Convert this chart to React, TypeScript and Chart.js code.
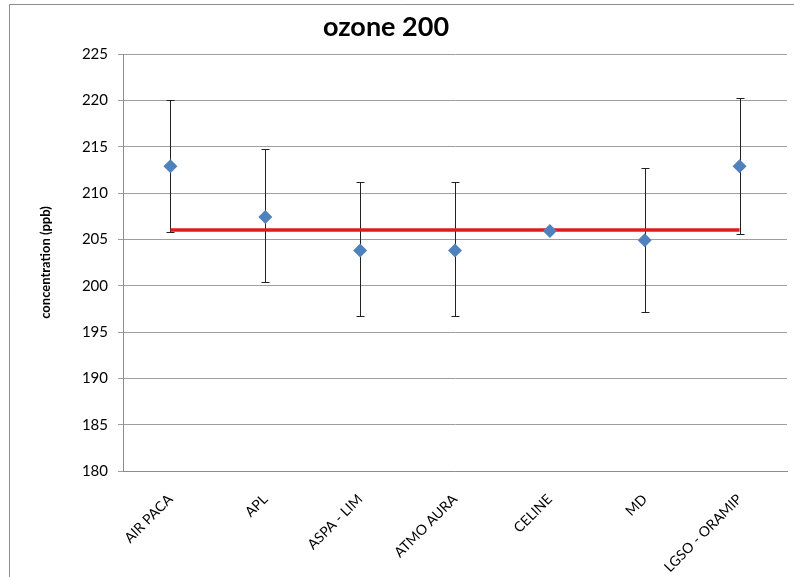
import React, { useEffect, useRef } from "react";
import { Chart, registerables } from "chart.js";

Chart.register(...registerables);

// Laboratories taking part in the ozone 200 ppb comparison
const categories = ["AIR PACA", "APL", "ASPA - LIM", "ATMO AURA", "CELINE", "MD", "LGSO - ORAMIP"];
// Measured concentration (ppb)
const measured = [212.9, 207.4, 203.8, 203.8, 205.9, 204.9, 212.9];
// Uncertainty interval bounds (ppb)
const upperBound = [220.0, 214.8, 211.2, 211.2, 205.9, 212.7, 220.3];
const lowerBound = [205.8, 200.4, 196.7, 196.7, 205.9, 197.2, 205.6];
// Reference value (ppb)
const referenceValue = 206.0;

const yTicks = { min: 180, max: 225, step: 5 };

const FONT = "Lato, 'Open Sans', 'DejaVu Sans', sans-serif";

const frameAndTitle = {
  id: "frameAndTitle",
  beforeDraw(chart: any) {
    const { ctx } = chart;
    ctx.save();
    ctx.fillStyle = "#ffffff";
    ctx.fillRect(0, 0, chart.width, chart.height);
    ctx.strokeStyle = "#8c8c8c";
    ctx.lineWidth = 1;
    ctx.beginPath();
    ctx.moveTo(9.5, chart.height);
    ctx.lineTo(9.5, 4.5);
    ctx.lineTo(chart.width, 4.5);
    ctx.stroke();
    ctx.restore();
  },
  afterDraw(chart: any) {
    const { ctx } = chart;
    ctx.save();
    ctx.fillStyle = "#000000";
    ctx.font = `bold 27px ${FONT}`;
    ctx.textAlign = "center";
    ctx.textBaseline = "middle";
    ctx.fillText("ozone 200", 386, 27);
    ctx.restore();
  },
};

const errorBars = {
  id: "errorBars",
  beforeDatasetsDraw(chart: any) {
    const { ctx, scales } = chart;
    const x = scales.x;
    const y = scales.y;
    ctx.save();
    ctx.strokeStyle = "#222222";
    ctx.lineWidth = 1;
    categories.forEach((_, i) => {
      const hi = upperBound[i];
      const lo = lowerBound[i];
      if (hi === lo) return;
      const px = Math.round(x.getPixelForValue(i)) + 0.5;
      const yTop = Math.round(y.getPixelForValue(hi)) + 0.5;
      const yBot = Math.round(y.getPixelForValue(lo)) + 0.5;
      ctx.beginPath();
      ctx.moveTo(px, yTop);
      ctx.lineTo(px, yBot);
      ctx.moveTo(px - 4, yTop);
      ctx.lineTo(px + 4, yTop);
      ctx.moveTo(px - 4, yBot);
      ctx.lineTo(px + 4, yBot);
      ctx.stroke();
    });
    ctx.restore();
  },
};

export default function App() {
  const canvasRef = useRef<HTMLCanvasElement | null>(null);

  useEffect(() => {
    if (!canvasRef.current) return;
    const chart = new Chart(canvasRef.current, {
      type: "line",
      data: {
        labels: categories,
        datasets: [
          {
            label: "measured",
            data: measured,
            showLine: false,
            pointStyle: "rectRot",
            pointRadius: 7,
            pointBackgroundColor: "#4f81bd",
            pointBorderColor: "#4f81bd",
            pointBorderWidth: 0,
            order: 1,
          },
          {
            label: "reference",
            data: categories.map(() => referenceValue),
            borderColor: "#e31a1a",
            borderWidth: 3.5,
            pointRadius: 0,
            fill: false,
            order: 2,
          },
        ],
      },
      options: {
        responsive: false,
        animation: false,
        events: [],
        layout: { padding: { top: 54, left: 38, right: 7, bottom: 0 } },
        plugins: {
          legend: { display: false },
          title: { display: false },
          tooltip: { enabled: false },
        },
        scales: {
          x: {
            type: "category",
            offset: true,
            grid: { display: false, drawTicks: false },
            border: { display: true, color: "#8c8c8c", width: 1 },
            ticks: {
              color: "#000000",
              font: { family: FONT, size: 14 },
              maxRotation: 45,
              minRotation: 45,
              padding: 20,
              autoSkip: false,
            },
            afterFit: (s: any) => {
              s.height = 106;
            },
          },
          y: {
            min: yTicks.min,
            max: yTicks.max,
            ticks: {
              stepSize: yTicks.step,
              color: "#000000",
              font: { family: FONT, size: 15 },
              padding: 10,
            },
            grid: { color: "#9e9e9e", lineWidth: 1, tickLength: 5 },
            border: { display: true, color: "#8c8c8c", width: 1 },
            title: {
              display: true,
              text: "concentration (ppb)",
              color: "#000000",
              font: { family: FONT, size: 13, weight: "bold" },
              padding: 0,
            },
            afterFit: (s: any) => {
              s.width = 85;
            },
          },
        },
      },
      plugins: [frameAndTitle, errorBars],
    });
    return () => chart.destroy();
  }, []);

  return (
    <div style={{ position: "fixed", left: 0, top: 0, width: 794, height: 577, background: "#fff" }}>
      <canvas ref={canvasRef} width={794} height={577} style={{ display: "block" }} />
    </div>
  );
}
